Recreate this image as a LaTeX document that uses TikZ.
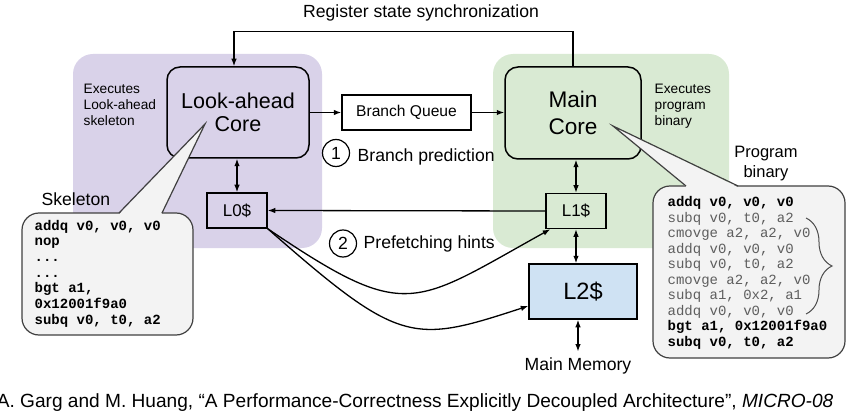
\documentclass[tikz,border=0pt]{standalone}
\usepackage{fontspec}
\setmainfont{Liberation Sans}
\setmonofont{Liberation Mono}
\usetikzlibrary{arrows.meta, calc, positioning, decorations.pathreplacing}

\definecolor{lapurple}{HTML}{D9D2E9}
\definecolor{mcgreen}{HTML}{D9EAD3}
\definecolor{lblue}{HTML}{CFE2F3}
\definecolor{bubblegray}{HTML}{F3F3F3}
\definecolor{codegray}{HTML}{5E5E5E}

\newcommand{\fsz}[2]{\fontsize{#1}{#2}\selectfont}
\newcommand{\ddd}{...}

\begin{document}
\begin{tikzpicture}[x=1pt, y=-1pt, >={Latex[length=7.5pt,width=5.5pt]}, line width=1.3pt,
	core/.style={draw, rounded corners=13pt, line width=1.5pt, align=center, inner sep=0pt},
	cache/.style={draw, line width=1.5pt, inner sep=0pt, minimum width=60pt, minimum height=35pt, font=\fsz{17}{20}},
	lbl/.style={font=\fsz{17.6}{20}, inner sep=0pt},
	small/.style={font=\fsz{13.7}{16}, align=left, inner sep=0pt, anchor=north west},
	code/.style={font=\ttfamily\bfseries\fsz{14}{15.5}, inner sep=0pt, anchor=base west},
	codeb/.style={code},
	codeg/.style={code, font=\ttfamily\mdseries\fsz{14}{15.5}, text=codegray},
	bubble/.style={draw=black!75, fill=bubblegray, line width=1.2pt},
	num/.style={draw, circle, minimum size=27pt, inner sep=0pt, line width=1.2pt, font=\fsz{17.6}{20}}]
	
	\useasboundingbox (0,0) rectangle (856,414);
	
	% Core regions
	\fill[lapurple, rounded corners=20pt] (73,54) rectangle (322,248);
	\fill[mcgreen, rounded corners=20pt] (493,54) rectangle (729,248);
	
	% --- CORES AND QUEUE ---
	\node[core, fill=lapurple, minimum width=142pt, minimum height=91pt, font=\fsz{21.5}{23.5}] (la) at (238,112.5) {Look-ahead\\Core};
	\node[core, fill=mcgreen, minimum width=136pt, minimum height=92pt, font=\fsz{22.6}{26.7}] (mc) at (573,113) {Main\\Core};
	\node[draw, minimum width=129pt, minimum height=35pt, inner sep=0pt, font=\fsz{15.6}{18}] (bq) at (406.5,112.5) {Branch Queue};
	
	\node[small] (exla) at (83,83) {Executes\\Look-ahead\\skeleton};
	\node[small] (exmc) at (654,83) {Executes\\program\\binary};
	
	% --- CACHES ---
	\node[cache, fill=lapurple] (l0) at (237,210.5) {L0\$};
	\node[cache, fill=mcgreen] (l1) at (576,211) {L1\$};
	\node[cache, fill=lblue, minimum width=108pt, minimum height=55pt, font=\fsz{23.6}{26}] (l2) at (583,291.5) {L2\$};
	\node[lbl, anchor=base] (mm) at (578,370) {Main Memory};
	
	% Register state synchronization
	\draw[->] (mc.north) -- ++(0,-35) coordinate (sync) -| ([xshift=-4pt]la.north);
	\node[lbl, anchor=base] (synclbl) at (421,18) {Register state synchronization};
	
	% Branch prediction path
	\draw[->] (la.east) -- (bq.west);
	\draw[->] (bq.east) -- (mc.west |- bq.east);
	\node[num] (n1) at (336,153) {1};
	\node[lbl, anchor=base west] (bp) at (357,162) {Branch prediction};
	
	% Memory hierarchy
	\draw[<->] (la.south -| l0.north) -- (l0.north);
	\draw[<->] (l1.north |- mc.south) -- (l1.north);
	\draw[->] (l1.west) -- (l0.east);
	\draw[<->] (l1.south) -- (l1.south |- l2.north);
	\draw[<->] (mm.north |- l2.south) -- ([yshift=5pt]mm.north);
	
	% Prefetching hints
	\draw[->] (l0.south east) .. controls (407,323) and (412,306) .. ([xshift=5pt]l1.south west);
	\draw[->] (l0.south east) .. controls (400,345) and (412,344) .. ([yshift=-14.5pt]l2.west);
	\node[num] (n2) at (343,243.5) {2};
	\node[lbl, anchor=base west] (pf) at (363,248) {Prefetching hints};
	
	% --- SKELETON CALLOUT ---
	\draw[bubble, rounded corners=17pt] (22,213) rectangle (193,335);
	\fill[bubblegray] (119.5,214) -- (205,124) -- (161.5,214) -- cycle;
	\draw[black!75, line width=1.2pt] (119,213) -- (205,124) -- (162,213);
	\node[lbl, anchor=base west] (skl) at (41,205) {Skeleton};
	\foreach \txt [count=\i] in {{addq v0, v0, v0}, nop, \ddd, \ddd, {bgt a1,}, 0x12001f9a0, {subq v0, t0, a2}}
		\node[code] (sk\i) at (34,{230+15.7*(\i-1)}) {\txt};
	
	% --- PROGRAM BINARY CALLOUT ---
	\draw[bubble, rounded corners=17pt] (653,186) rectangle (845,358);
	\fill[bubblegray] (686.5,187) -- (613,126) -- (737.5,187) -- cycle;
	\draw[black!75, line width=1.2pt] (686,186) -- (613,126) -- (738,186);
	\node[lbl, align=center, font=\fsz{16.5}{20}, anchor=north] (pbl) at (766,145) {Program\\binary};
	\foreach \sty/\txt [count=\i] in {codeb/{addq v0, v0, v0}, codeg/{subq v0, t0, a2}, codeg/{cmovge a2, a2, v0}, codeg/{addq v0, v0, v0}, codeg/{subq v0, t0, a2}, codeg/{cmovge a2, a2, v0}, codeg/{subq a1, 0x2, a1}, codeg/{addq v0, v0, v0}, codeb/{bgt a1, 0x12001f9a0}, codeb/{subq v0, t0, a2}}
		\node[\sty] (pb\i) at (667,{207+15.45*(\i-1)}) {\txt};
	\draw[black!70, line width=1pt, decorate, decoration={brace, amplitude=26pt}] (806,218) -- (806,314);
	
	% Citation
	\node[anchor=base east, inner sep=0pt, font=\fsz{19.1}{22}] (cite) at (834,407) {A. Garg and M. Huang, “A Performance-Correctness Explicitly Decoupled Architecture”, \textit{MICRO-08}};
	
\end{tikzpicture}
\end{document}
